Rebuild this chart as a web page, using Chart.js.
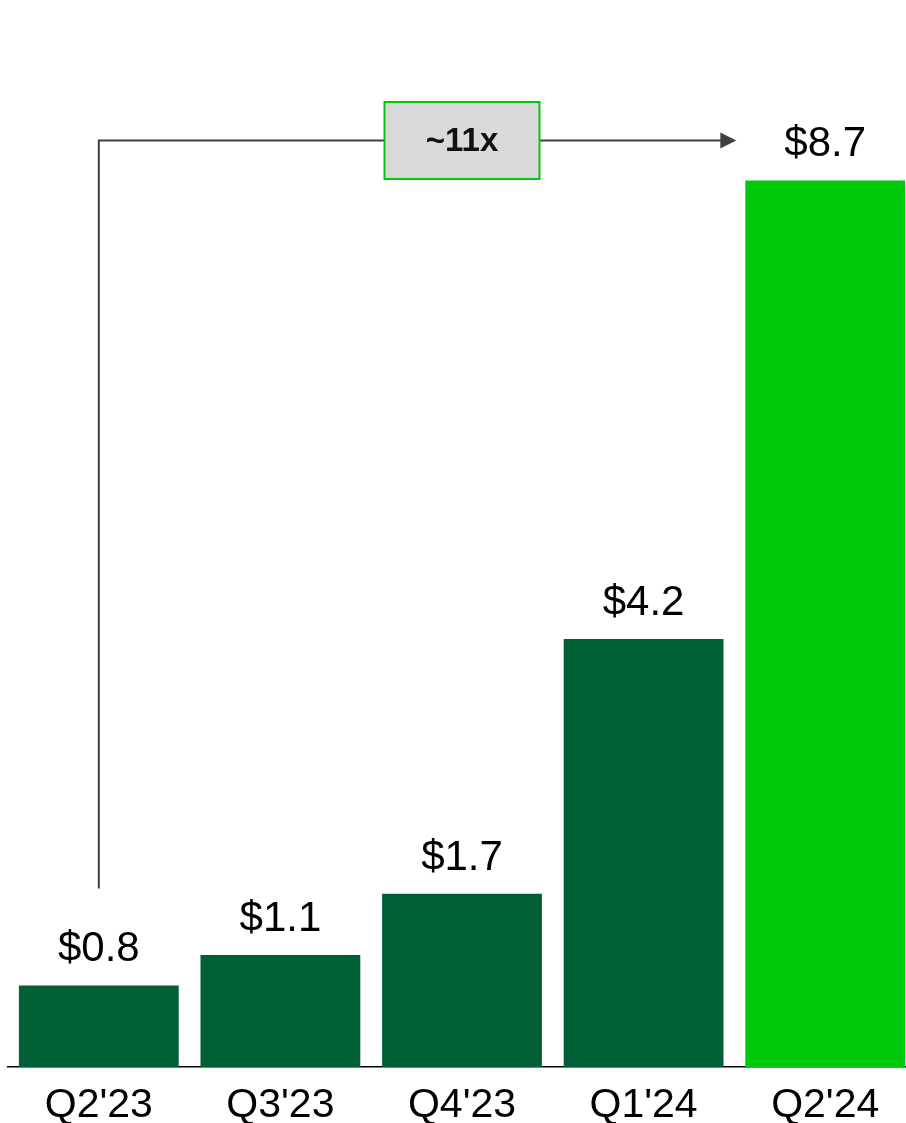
<!DOCTYPE html>
<html>
<head>
<meta charset="utf-8">
<script src="https://cdn.jsdelivr.net/npm/chart.js@4/dist/chart.umd.min.js"></script>
<style>
  html, body { margin: 0; padding: 0; background: #ffffff; overflow: hidden; }
  #wrap { position: relative; width: 924px; height: 1123px; }
</style>
</head>
<body>
<div id="wrap"><canvas id="c"></canvas></div>
<script>
// Quarterly revenue, $B
const categories = ["Q2'23", "Q3'23", "Q4'23", "Q1'24", "Q2'24"];
const revenue = [0.8, 1.1, 1.7, 4.2, 8.7];
const barColors = ['#005f35', '#005f35', '#005f35', '#005f35', '#00c80a'];
const growthLabel = '~11x';
const yMax = 10;

const FONT = '"Liberation Sans", Arial, Helvetica, sans-serif';

// Draws "$x.x" above every bar and the growth bracket from the first to the last quarter
const annotate = {
  id: 'annotate',
  afterDatasetsDraw(chart) {
    const ctx = chart.ctx;
    const meta = chart.getDatasetMeta(0);
    const bars = meta.data;

    ctx.save();
    ctx.fillStyle = '#000000';
    ctx.font = '42px ' + FONT;
    ctx.textAlign = 'center';
    ctx.textBaseline = 'alphabetic';
    bars.forEach((bar, i) => {
      ctx.fillText('$' + revenue[i].toFixed(1), bar.x, bar.y - 24);
    });

    const first = bars[0];
    const mid = bars[2];
    const last = bars[bars.length - 1];
    const lineY = last.y - 40;
    const boxW = 155, boxH = 77;
    const boxL = mid.x - boxW / 2, boxR = mid.x + boxW / 2;
    const tipX = last.x - last.width / 2 - 9;

    ctx.strokeStyle = '#404040';
    ctx.lineWidth = 2;
    ctx.beginPath();
    ctx.moveTo(first.x, first.y - 97);
    ctx.lineTo(first.x, lineY);
    ctx.lineTo(boxL, lineY);
    ctx.moveTo(boxR, lineY);
    ctx.lineTo(tipX - 14, lineY);
    ctx.stroke();

    ctx.fillStyle = '#404040';
    ctx.beginPath();
    ctx.moveTo(tipX, lineY);
    ctx.lineTo(tipX - 16, lineY - 8);
    ctx.lineTo(tipX - 16, lineY + 8);
    ctx.closePath();
    ctx.fill();

    ctx.fillStyle = '#d9d9d9';
    ctx.fillRect(boxL, lineY - boxH / 2, boxW, boxH);
    ctx.strokeStyle = '#00c80a';
    ctx.lineWidth = 2;
    ctx.strokeRect(boxL, lineY - boxH / 2, boxW, boxH);

    ctx.fillStyle = '#111111';
    ctx.font = 'bold 33px ' + FONT;
    ctx.textBaseline = 'middle';
    ctx.fillText(growthLabel, mid.x, lineY + 1);
    ctx.restore();
  }
};

new Chart(document.getElementById('c'), {
  type: 'bar',
  data: {
    labels: categories,
    datasets: [{
      data: revenue,
      backgroundColor: barColors,
      borderWidth: 0,
      barPercentage: 0.88,
      categoryPercentage: 1.0
    }]
  },
  options: {
    responsive: true,
    maintainAspectRatio: false,
    animation: false,
    devicePixelRatio: 1,
    layout: { padding: { top: 48, left: 8, right: 8, bottom: -21 } },
    plugins: { legend: { display: false }, tooltip: { enabled: false } },
    scales: {
      x: {
        grid: { display: false, drawTicks: false },
        border: { display: true, color: '#000000', width: 1.5 },
        ticks: { color: '#000000', font: { family: FONT, size: 41, lineHeight: 1.0 }, padding: 18 }
      },
      y: {
        display: false,
        min: 0,
        max: yMax
      }
    }
  },
  plugins: [annotate]
});
</script>
</body>
</html>
